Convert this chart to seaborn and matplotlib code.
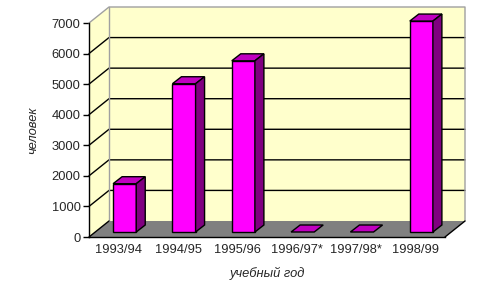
import matplotlib
matplotlib.use("Agg")
import matplotlib.pyplot as plt
import seaborn as sns
import pandas as pd
import numpy as np
from matplotlib.patches import Polygon

years = ["1993/94", "1994/95", "1995/96", "1996/97*", "1997/98*", "1998/99"]
people = [1580, 4850, 5600, 0, 0, 6900]
yticks = [0, 1000, 2000, 3000, 4000, 5000, 6000, 7000]
ylabel = "человек"
xlabel = "учебный год"

sns.set_style("white")
plt.rcParams['font.family'] = ['Liberation Sans', 'DejaVu Sans']

W, H = 486, 296
fig = plt.figure(figsize=(W / 100, H / 100), dpi=100)

# front plane in pixels
L, R, T, B = 89, 445, 23, 237
ax = fig.add_axes([L / W, 1 - B / H, (R - L) / W, (B - T) / H])
n = len(years)
ymax = 7000
ax.set_xlim(-0.5, n - 0.5)
ax.set_ylim(0, ymax)
pxx = (R - L) / n          # px per category
pxy = (B - T) / ymax       # px per unit
DX = 20 / pxx
DY = 16 / pxy

yellow = "#FFFFCC"
gray = "#808080"
# back wall
ax.add_patch(Polygon([(-0.5 + DX, DY), (n - 0.5 + DX, DY), (n - 0.5 + DX, ymax + DY), (-0.5 + DX, ymax + DY)],
                     closed=True, fc=yellow, ec="none", clip_on=False, zorder=0))
# side wall
ax.add_patch(Polygon([(-0.5, 0), (-0.5 + DX, DY), (-0.5 + DX, ymax + DY), (-0.5, ymax)],
                     closed=True, fc=yellow, ec="none", clip_on=False, zorder=0))
# floor
ax.add_patch(Polygon([(-0.5, 0), (n - 0.5, 0), (n - 0.5 + DX, DY), (-0.5 + DX, DY)],
                     closed=True, fc=gray, ec="none", clip_on=False, zorder=1))
# gridlines
for v in yticks[1:-1]:
    ax.plot([-0.5, -0.5 + DX, n - 0.5 + DX], [v, v + DY, v + DY], color="black", lw=1.0, clip_on=False, zorder=1)
# wall frame
ax.plot([-0.5, -0.5 + DX, n - 0.5 + DX, n - 0.5 + DX], [ymax, ymax + DY, ymax + DY, DY], color="#A0A0A0", lw=1.0, clip_on=False, zorder=1)
ax.plot([-0.5 + DX, -0.5 + DX], [DY, ymax + DY], color="#A0A0A0", lw=1.0, clip_on=False, zorder=1)
ax.plot([-0.5, -0.5 + DX], [0, DY], color="black", lw=1.0, clip_on=False, zorder=1)
ax.plot([n - 0.5, n - 0.5 + DX], [0, DY], color="black", lw=1.0, clip_on=False, zorder=1)

# bars (front faces) on the front plane shifted into depth
ox, oy = 6 / pxx, 5 / pxy
bdx, bdy = 9 / pxx, 7 / pxy
df = pd.DataFrame({"year": years, "people": people})
sns.barplot(data=df, x="year", y="people", ax=ax, color="#FF00FF", saturation=1, width=0.39,
            edgecolor="black", linewidth=1.0, zorder=3)
for p in list(ax.patches):
    try:
        x0, w, h = p.get_x(), p.get_width(), p.get_height()
    except AttributeError:
        continue
    if abs(w - 0.39) > 1e-6:
        continue
    p.set_x(x0 + ox)
    p.set_y(oy)
    p.set_clip_on(False)
    x0 = x0 + ox
    y0 = oy
    top = y0 + h
    ax.add_patch(Polygon([(x0, top), (x0 + w, top), (x0 + w + bdx, top + bdy), (x0 + bdx, top + bdy)],
                         closed=True, fc="#C000C0", ec="black", lw=1.0, clip_on=False, zorder=4))
    if h > 0:
        ax.add_patch(Polygon([(x0 + w, y0), (x0 + w + bdx, y0 + bdy), (x0 + w + bdx, top + bdy), (x0 + w, top)],
                             closed=True, fc="#800080", ec="black", lw=1.0, clip_on=False, zorder=4))
    else:
        p.set_visible(False)

for s in ["top", "right"]:
    ax.spines[s].set_visible(False)
for s in ["left", "bottom"]:
    ax.spines[s].set_color("black")
    ax.spines[s].set_linewidth(1.0)
    ax.spines[s].set_zorder(5)

fs = 9.3
ax.set_yticks(yticks)
ax.set_yticklabels([str(v) for v in yticks], fontsize=fs)
ax.set_xticks(np.arange(n + 1) - 0.5)
ax.set_xticklabels([])
ax.set_xticks(np.arange(n), minor=True)
ax.set_xticklabels(years, minor=True, fontsize=fs)
ax.tick_params(axis="x", which="major", direction="out", length=4, width=1, color="black")
ax.tick_params(axis="x", which="minor", length=0, pad=5)
ax.tick_params(axis="y", direction="out", length=4, width=1, color="black", pad=2, left=True)
ax.set_xlabel(xlabel, fontsize=fs, style="italic", labelpad=8)
ax.set_ylabel(ylabel, fontsize=fs, style="italic", labelpad=9)
ax.patch.set_visible(False)
ax.grid(False)

fig.savefig("out.png", dpi=100)
